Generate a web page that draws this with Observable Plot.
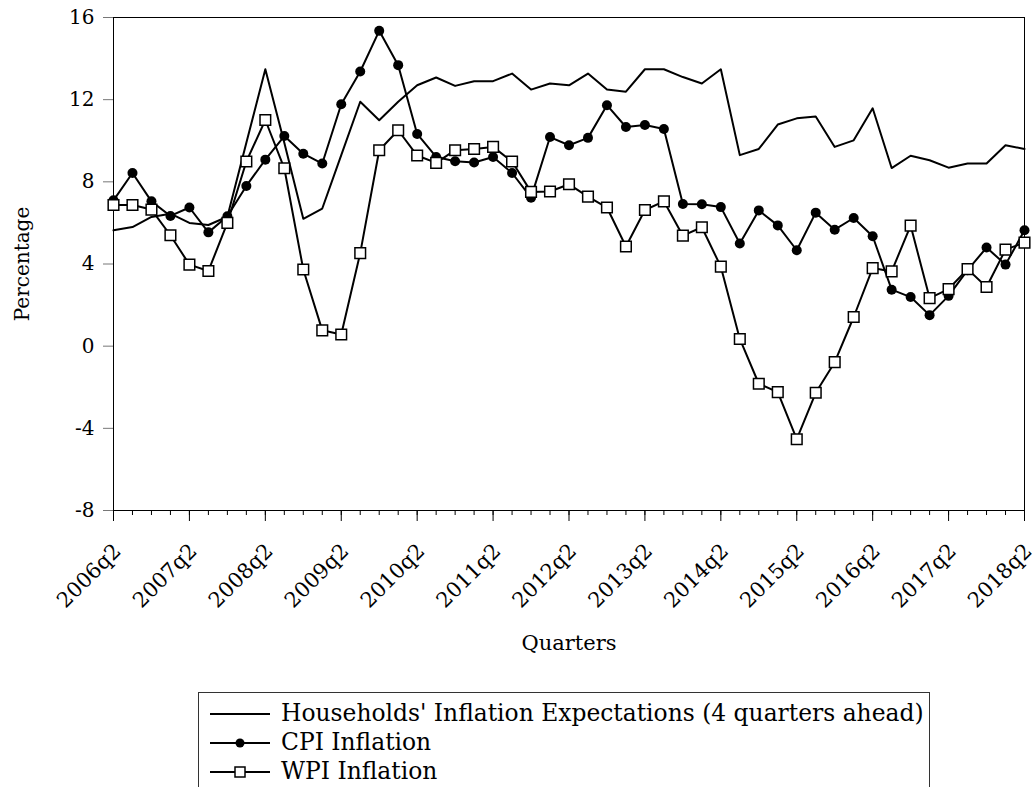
<!DOCTYPE html>
<html><head><meta charset="utf-8">
<script src="https://cdn.jsdelivr.net/npm/d3@7"></script>
<script src="https://cdn.jsdelivr.net/npm/@observablehq/plot@0.6"></script>
<style>
body{margin:0;background:#fff;font-family:"DejaVu Serif",serif;}
#chart{position:absolute;left:0;top:0;}
#legend{position:absolute;left:198px;top:692px;width:732px;height:120px;border:1px solid #333;box-sizing:border-box;padding-top:6px;font-size:23.4px;color:#000;}
#legend .row{height:29px;line-height:29px;display:flex;align-items:center;white-space:nowrap;}
#legend svg{margin-left:11px;margin-right:11px;flex:none;}
</style></head><body>
<div id="chart"></div>
<div id="legend"></div>
<script>
const quarters = [
"2006q2","2006q3","2006q4","2007q1","2007q2","2007q3","2007q4","2008q1",
"2008q2","2008q3","2008q4","2009q1","2009q2","2009q3","2009q4","2010q1",
"2010q2","2010q3","2010q4","2011q1","2011q2","2011q3","2011q4","2012q1",
"2012q2","2012q3","2012q4","2013q1","2013q2","2013q3","2013q4","2014q1",
"2014q2","2014q3","2014q4","2015q1","2015q2","2015q3","2015q4","2016q1",
"2016q2","2016q3","2016q4","2017q1","2017q2","2017q3","2017q4","2018q1",
"2018q2"];
const yearTickLabels = ["2006q2","2007q2","2008q2","2009q2","2010q2","2011q2","2012q2","2013q2","2014q2","2015q2","2016q2","2017q2","2018q2"];
const yTicks = [-8,-4,0,4,8,12,16];
const seriesNames = ["Households' Inflation Expectations (4 quarters ahead)","CPI Inflation","WPI Inflation"];

const households = [5.64,5.8,6.29,6.45,6.0,5.9,6.3,9.9,
13.48,9.9,6.2,6.7,9.3,11.9,11.0,11.9,
12.7,13.08,12.67,12.9,12.9,13.27,12.49,12.79,
12.7,13.27,12.49,12.39,13.48,13.48,13.1,12.79,
13.48,9.3,9.6,10.79,11.09,11.18,9.7,10.02,
11.58,8.67,9.27,9.05,8.69,8.89,8.89,9.78,
9.6];
const cpi = [7.1,8.43,7.05,6.34,6.75,5.54,6.32,7.8,
9.08,10.23,9.37,8.89,11.78,13.37,15.35,13.68,
10.33,9.21,9.0,8.94,9.21,8.43,7.23,10.18,
9.78,10.14,11.73,10.67,10.77,10.57,6.92,6.91,
6.77,5.0,6.61,5.88,4.67,6.5,5.67,6.24,
5.35,2.75,2.39,1.51,2.45,3.7,4.8,3.97,
5.64];
const wpi = [6.87,6.87,6.65,5.4,3.97,3.66,6.0,8.99,
11.01,8.66,3.73,0.77,0.57,4.53,9.54,10.51,
9.28,8.92,9.54,9.6,9.7,8.99,7.51,7.53,
7.88,7.28,6.75,4.85,6.63,7.05,5.38,5.79,
3.87,0.35,-1.83,-2.24,-4.53,-2.27,-0.78,1.42,
3.8,3.64,5.87,2.34,2.78,3.75,2.88,4.7,
5.04];

const rows = (vals) => quarters.map((q, i) => ({q, v: vals[i]}));
const H = rows(households), C = rows(cpi), W = rows(wpi);

const font = "DejaVu Serif";
const chart = Plot.plot({
  width: 1036,
  height: 680,
  marginLeft: 113,
  marginRight: 12,
  marginTop: 17,
  marginBottom: 170,
  style: {fontFamily: font, fontSize: "20px", background: "#fff", color: "#000"},
  x: {type: "point", domain: quarters, padding: 0},
  y: {domain: [-8, 16]},
  marks: [
    Plot.frame({stroke: "#000", strokeWidth: 1}),
    // minor quarterly ticks
    Plot.axisX({ticks: quarters, tickSize: 5, tickFormat: () => "", label: null, stroke: "#000"}),
    // major yearly ticks
    Plot.axisX({ticks: yearTickLabels, tickSize: 11, tickFormat: () => "", label: null, stroke: "#000"}),
    // rotated yearly labels
    Plot.axisX({ticks: yearTickLabels, tickSize: 0, tickRotate: -45, tickPadding: 31, dx: 4, dy: 6, fontSize: 21,
      label: null}),
    Plot.axisX({ticks: [], tickSize: 0, fontSize: 21, label: "Quarters", labelAnchor: "center", labelArrow: "none", labelOffset: 139}),
    Plot.axisY({ticks: yTicks, tickSize: 10, tickPadding: 9, fontSize: 20, stroke: "#777",
      tickFormat: d => String(d),
      label: "Percentage", labelAnchor: "center", labelArrow: "none", labelOffset: 99}),
    Plot.line(H, {x: "q", y: "v", stroke: "#000", strokeWidth: 2}),
    Plot.line(C, {x: "q", y: "v", stroke: "#000", strokeWidth: 2}),
    Plot.line(W, {x: "q", y: "v", stroke: "#000", strokeWidth: 2}),
    Plot.dot(C, {x: "q", y: "v", r: 5, fill: "#000", stroke: "none"}),
    Plot.dot(W, {x: "q", y: "v", symbol: "square", r: 6, fill: "#fff", stroke: "#000", strokeWidth: 1.5})
  ]
});
document.getElementById("chart").appendChild(chart);

// Legend
const legend = d3.select("#legend");
const markers = ["none", "dot", "square"];
seriesNames.forEach((name, i) => {
  const row = legend.append("div").attr("class", "row");
  const s = row.append("svg").attr("width", 60).attr("height", 20);
  s.append("line").attr("x1", 0).attr("x2", 60).attr("y1", 10).attr("y2", 10).attr("stroke", "#000").attr("stroke-width", 2);
  if (markers[i] === "dot") s.append("circle").attr("cx", 30).attr("cy", 10).attr("r", 4.5).attr("fill", "#000");
  if (markers[i] === "square") s.append("rect").attr("x", 25).attr("y", 5).attr("width", 10).attr("height", 10).attr("fill", "#fff").attr("stroke", "#000").attr("stroke-width", 1.5);
  row.append("span").text(name);
});
</script>
</body></html>
